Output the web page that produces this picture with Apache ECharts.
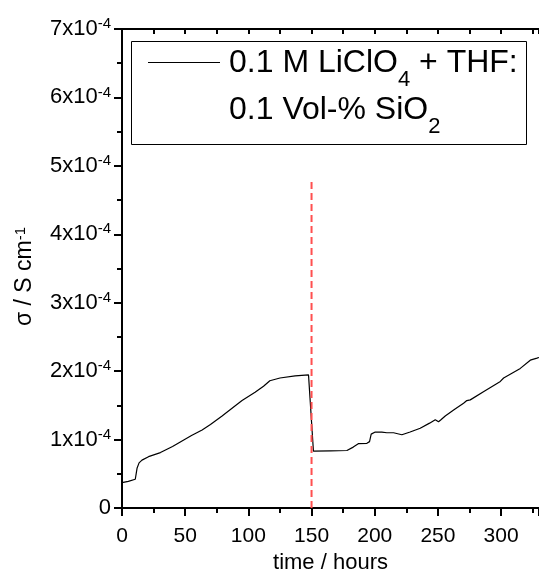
<!DOCTYPE html>
<html>
<head>
<meta charset="utf-8">
<title>Conductivity vs time</title>
<script src="https://cdn.jsdelivr.net/npm/echarts@6/dist/echarts.min.js"></script>
<style>
  html, body { margin: 0; padding: 0; background: #fff; }
  #chart { width: 539px; height: 569px; }
</style>
</head>
<body>
<div id="chart"></div>
<script>
// Measurement time (hours) and conductivity sigma (S cm^-1)
const hours = [
  0, 5, 10.5, 11.2, 11.9, 13.5, 15.8, 21, 30.4, 40, 47.5, 55, 63.4, 70, 79.2,
  85.8, 95, 105.3, 112, 117, 125, 137, 147.6, 151.5, 165, 178, 183, 187,
  193.8, 195.9, 197.2, 200.4, 205.6, 209.6, 214.9, 221.5, 228, 236, 243.4,
  247.9, 250.5, 252.4, 255.8, 263, 270.3, 272.9, 275.6, 287, 299.4, 302,
  315.2, 323.1, 328.4, 330
];
const sigma = [
  3.7e-5, 3.9e-5, 4.2e-5, 5.0e-5, 5.8e-5, 6.6e-5, 7.0e-5, 7.5e-5, 8.1e-5, 9.0e-5,
  9.8e-5, 1.06e-4, 1.14e-4, 1.22e-4, 1.345e-4, 1.44e-4, 1.57e-4, 1.69e-4,
  1.78e-4, 1.86e-4, 1.90e-4, 1.93e-4, 1.945e-4, 8.3e-5, 8.35e-5, 8.4e-5,
  8.9e-5, 9.4e-5, 9.45e-5, 9.7e-5, 1.08e-4, 1.11e-4, 1.11e-4, 1.10e-4,
  1.10e-4, 1.07e-4, 1.11e-4, 1.165e-4, 1.24e-4, 1.29e-4, 1.26e-4, 1.29e-4,
  1.345e-4, 1.44e-4, 1.53e-4, 1.57e-4, 1.58e-4, 1.71e-4, 1.85e-4, 1.90e-4,
  2.04e-4, 2.16e-4, 2.19e-4, 2.20e-4
];

// Time of the SiO2 addition, marked by a dashed line
const markerHour = [150, 150];
const markerSigma = [0, 4.82e-4];

// Axis ticks
const xTicks = [0, 50, 100, 150, 200, 250, 300];
const xMax = 330;
const yTickExponent = -4;
const yTickMultiples = [0, 1, 2, 3, 4, 5, 6, 7];

// Legend lines: [text before subscript, subscript, text after subscript]
const legendLines = [
  ['0.1 M LiClO', '4', ' + THF:'],
  ['0.1 Vol-% SiO', '2', '']
];

const FONT = 'Liberation Sans, Arial, Helvetica, sans-serif';
const chart = echarts.init(document.getElementById('chart'), null, { renderer: 'canvas' });

const curve = hours.map((h, i) => [h, sigma[i]]);
const marker = markerHour.map((h, i) => [h, markerSigma[i]]);

const yScale = Math.pow(10, yTickExponent);
const yMax = yTickMultiples[yTickMultiples.length - 1] * yScale;

// Text measurement for placing legend subscripts
const measureCtx = document.createElement('canvas').getContext('2d');
function textWidth(str, size) {
  measureCtx.font = size + 'px ' + FONT;
  return measureCtx.measureText(str).width;
}

const LEG_FONT = 32, LEG_SUB = 22, LEG_X = 229;
const legendRowY = [63.5, 110];   // middle of each text row
const legendSubDrop = 16.5;       // subscript offset below row middle

function legendRow(parts, y) {
  const [pre, sub, post] = parts;
  const x1 = LEG_X + textWidth(pre, LEG_FONT);
  const x2 = x1 + textWidth(sub, LEG_SUB);
  const els = [
    { type: 'text', x: LEG_X, y: y, z: 11,
      style: { text: pre, font: LEG_FONT + 'px ' + FONT, fill: '#000', align: 'left', verticalAlign: 'middle' } },
    { type: 'text', x: x1, y: y + legendSubDrop, z: 11,
      style: { text: sub, font: LEG_SUB + 'px ' + FONT, fill: '#000', align: 'left', verticalAlign: 'middle' } }
  ];
  if (post) {
    els.push({ type: 'text', x: x2, y: y, z: 11,
      style: { text: post, font: LEG_FONT + 'px ' + FONT, fill: '#000', align: 'left', verticalAlign: 'middle' } });
  }
  return els;
}

const option = {
  animation: false,
  backgroundColor: '#fff',
  grid: { left: 122, right: 0, top: 29, bottom: 61, containLabel: false, outerBoundsMode: 'none' },
  xAxis: [
    {
      type: 'value', position: 'bottom',
      min: xTicks[0], max: xMax, interval: xTicks[1] - xTicks[0],
      name: 'time / hours', nameLocation: 'middle', nameGap: 41,
      nameTextStyle: { fontFamily: FONT, fontSize: 22, color: '#000' },
      axisLine: { show: true, onZero: false, lineStyle: { color: '#000', width: 2 } },
      axisTick: { show: true, inside: false, length: 8, lineStyle: { color: '#000', width: 2 } },
      minorTick: { show: true, splitNumber: 2, length: 5, lineStyle: { color: '#000', width: 2 } },
      axisLabel: {
        fontFamily: FONT, fontSize: 21, color: '#000', margin: 18,
        showMaxLabel: false,
        formatter: function (v) { return xTicks.indexOf(v) >= 0 ? String(v) : ''; }
      },
      splitLine: { show: false }
    },
    {
      type: 'value', position: 'top',
      min: xTicks[0], max: xMax, interval: 25,
      axisLine: { show: true, onZero: false, lineStyle: { color: '#000', width: 2 } },
      axisTick: { show: true, inside: true, length: 5, lineStyle: { color: '#000', width: 2 } },
      axisLabel: { show: false },
      splitLine: { show: false }
    }
  ],
  yAxis: [
    {
      type: 'value', position: 'left',
      min: 0, max: yMax, interval: yScale,
      name: 'σ / S cm{s|-1}', nameLocation: 'middle', nameGap: 85, nameRotate: 90,
      nameTextStyle: {
        fontFamily: FONT, fontSize: 23, color: '#000', padding: [0, 16, 0, 0],
        rich: { s: { fontFamily: FONT, fontSize: 15, color: '#000', padding: [0, 0, 9, 0] } }
      },
      axisLine: { show: true, onZero: false, lineStyle: { color: '#000', width: 2 } },
      axisTick: { show: true, inside: false, length: 8, lineStyle: { color: '#000', width: 2 } },
      minorTick: { show: true, splitNumber: 2, length: 5, lineStyle: { color: '#000', width: 2 } },
      axisLabel: {
        fontFamily: FONT, fontSize: 22, color: '#000', margin: 11,
        formatter: function (v) {
          const n = Math.round(v / yScale);
          if (n === 0) return '0';
          return '{m|' + n + 'x10}{s|' + yTickExponent + '}';
        },
        rich: {
          m: { fontFamily: FONT, fontSize: 22, color: '#000' },
          s: { fontFamily: FONT, fontSize: 15, color: '#000', padding: [0, 0, 10, 0] }
        }
      },
      splitLine: { show: false }
    },
    {
      type: 'value', position: 'right',
      min: 0, max: yMax, interval: yScale,
      axisLine: { show: false },
      axisTick: { show: true, inside: true, length: 4, lineStyle: { color: '#000', width: 2 } },
      axisLabel: { show: false },
      splitLine: { show: false }
    }
  ],
  series: [
    {
      name: '0.1 M LiClO4 + THF: 0.1 Vol-% SiO2',
      type: 'line', xAxisIndex: 0, yAxisIndex: 0,
      data: curve, symbol: 'none', smooth: false,
      lineStyle: { color: '#000', width: 1.2 },
      z: 3
    },
    {
      name: 'marker',
      type: 'line', xAxisIndex: 0, yAxisIndex: 0,
      data: marker, symbol: 'none',
      lineStyle: { color: '#ff5050', width: 2, type: [7, 4] },
      z: 4
    }
  ],
  // Legend box drawn as graphic elements so the sample line sits on the first text row
  graphic: [
    {
      type: 'rect', shape: { x: 131.5, y: 41.5, width: 395, height: 103 },
      style: { fill: '#fff', stroke: '#000', lineWidth: 1 }, z: 10
    },
    {
      type: 'line', shape: { x1: 148, y1: 62.5, x2: 220, y2: 62.5 },
      style: { stroke: '#000', lineWidth: 1 }, z: 11
    }
  ].concat(legendRow(legendLines[0], legendRowY[0]), legendRow(legendLines[1], legendRowY[1]))
};

chart.setOption(option);
</script>
</body>
</html>
